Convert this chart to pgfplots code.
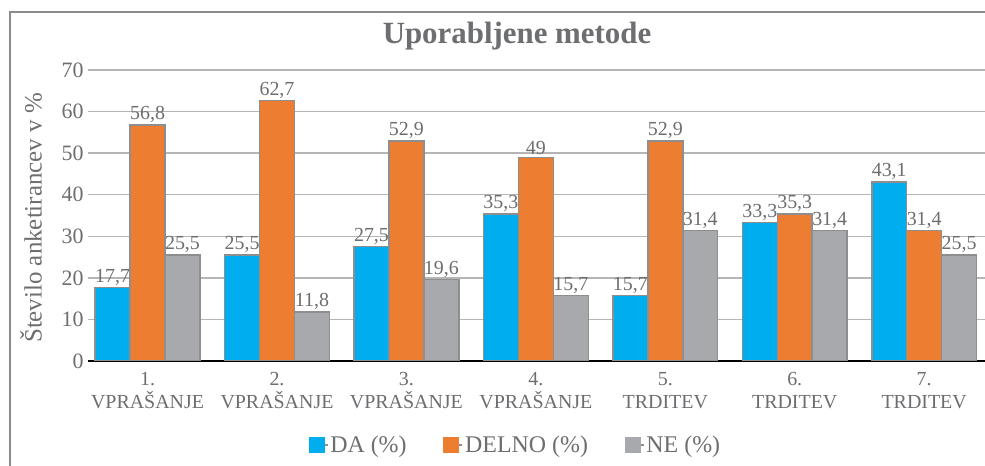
\documentclass[border=0pt]{standalone}
\usepackage{pgfplots}
\pgfplotsset{compat=1.18}
\usepackage{fontspec}
\setmainfont{Liberation Serif}
\definecolor{txt}{HTML}{6D6E71}
\definecolor{frame}{HTML}{8C8C8C}
\definecolor{gridc}{HTML}{B5B5B5}
\definecolor{outl}{HTML}{8E8E8E}
\definecolor{cda}{HTML}{00AEEF}
\definecolor{cdelno}{HTML}{ED7D31}
\definecolor{cne}{HTML}{A7A9AC}
\begin{document}
\begin{tikzpicture}[x=1bp,y=1bp]
\useasboundingbox (0,0) rectangle (985,466);
\fill[white] (0,0) rectangle (985,466);
\draw[line width=2bp, color=frame] (10,-20) -- (10,454) -- (1000,454);
\node[font=\fontsize{31}{31}\selectfont\rmfamily\bfseries, text=txt] at (517,430) {Uporabljene metode};
\node[font=\fontsize{25}{25}\selectfont\rmfamily, text=txt, rotate=90] at (31,248) {Število anketirancev v \%};
\begin{axis}[
  at={(88bp,105bp)}, anchor=south west,
  width=897bp, height=291bp, scale only axis,
  ybar, bar width=0.27,
  ymin=0, ymax=70, ytick={0,10,...,70},
  xmin=-0.46, xmax=6.47,
  xtick={0,...,6},
  xticklabels={{1.\\VPRAŠANJE},{2.\\VPRAŠANJE},{3.\\VPRAŠANJE},{4.\\VPRAŠANJE},{5.\\TRDITEV},{6.\\TRDITEV},{7.\\TRDITEV}},
  axis x line*=bottom, axis y line*=left,
  x axis line style={black, line width=2bp, -},
  y axis line style={draw=none},
  xtick style={draw=none},
  ytick style={color=gridc, line width=1.5bp},
  major tick length=6bp,
  tick pos=left,
  ymajorgrids, grid style={color=gridc, line width=1.5bp},
  /pgf/number format/assume math mode=true,
  yticklabel style={font=\fontsize{22}{22}\selectfont\rmfamily, text=txt, xshift=-1bp},
  xticklabel style={font=\fontsize{20}{23}\selectfont\rmfamily, text=txt, align=center, yshift=-2bp},
  nodes near coords={\pgfmathprintnumber[fixed, precision=1, use comma, assume math mode=true]{\pgfplotspointmeta}},
  every node near coord/.append style={font=\fontsize{20}{20}\selectfont\rmfamily, text=txt, inner sep=1.5bp},
  legend style={at={(0.476,-0.289)}, anchor=center, draw=none, fill=none,
    legend columns=-1, font=\fontsize{24}{24}\selectfont\rmfamily, text=txt,
    /tikz/every even column/.append style={column sep=34bp}},
  legend image code/.code={\path (0bp,0bp) -- (19bp,0bp); \fill[#1, draw=none] (0bp,-8bp) rectangle (16bp,8bp);},
]
\addplot[bar shift=-0.27, fill=cda, draw=outl, line width=1.5bp] coordinates {(0,17.7) (1,25.5) (2,27.5) (3,35.3) (4,15.7) (5,33.3) (6,43.1)};
\addplot[bar shift=0, fill=cdelno, draw=outl, line width=1.5bp] coordinates {(0,56.8) (1,62.7) (2,52.9) (3,49) (4,52.9) (5,35.3) (6,31.4)};
\addplot[bar shift=0.27, fill=cne, draw=outl, line width=1.5bp] coordinates {(0,25.5) (1,11.8) (2,19.6) (3,15.7) (4,31.4) (5,31.4) (6,25.5)};
\legend{DA (\%), DELNO (\%), NE (\%)}
\end{axis}
\end{tikzpicture}
\end{document}
